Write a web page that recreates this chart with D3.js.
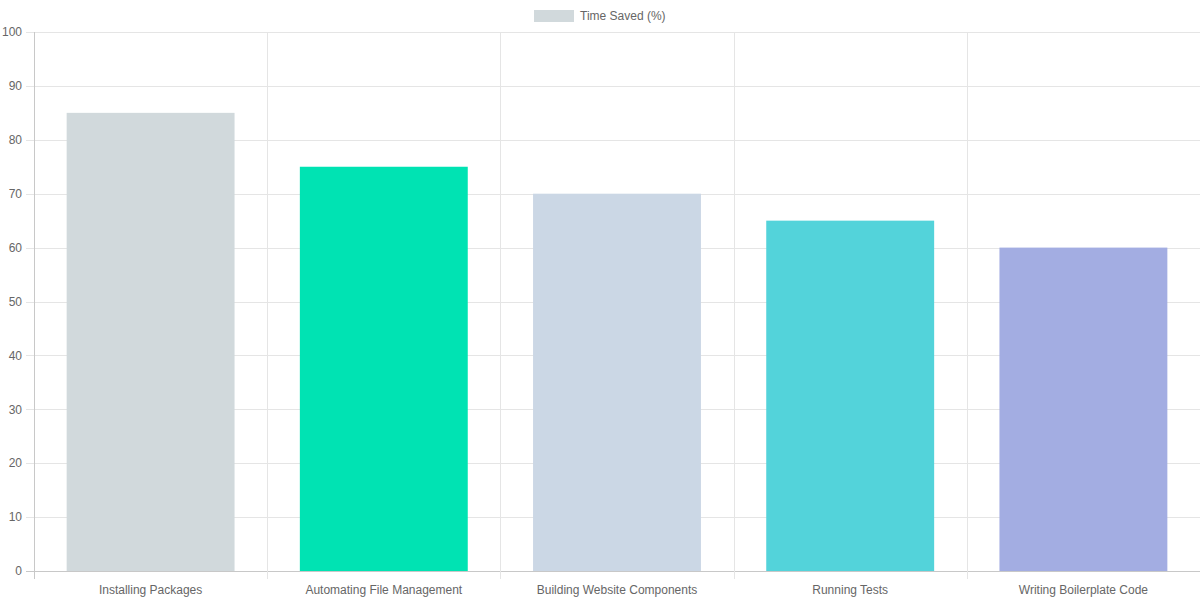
<!DOCTYPE html>
<html>
<head>
<meta charset="utf-8">
<script src="https://cdn.jsdelivr.net/npm/d3@7"></script>
<style>
  body { margin: 0; background: #fff; }
  svg { display: block; font-family: "Liberation Sans", Arial, sans-serif; }
</style>
</head>
<body>
<svg id="chart" width="1200" height="600"></svg>
<script>
// data
const categories = ["Installing Packages", "Automating File Management", "Building Website Components", "Running Tests", "Writing Boilerplate Code"];
const timeSaved = [85, 75, 70, 65, 60];
const barColors = ["#d1d9dc", "#00e3b3", "#cbd7e5", "#53d3da", "#a3ade2"];
const yTicks = [0, 10, 20, 30, 40, 50, 60, 70, 80, 90, 100];
const seriesName = "Time Saved (%)";

const svg = d3.select("#chart"),
    margin = { top: 32, right: 0, bottom: 29, left: 34 },
    width = 1200 - margin.left - margin.right,
    height = 600 - margin.top - margin.bottom;

const g = svg.append("g")
    .attr("transform", `translate(${margin.left},${margin.top})`);

const x = d3.scaleBand()
    .domain(categories)
    .range([0, width])
    .paddingInner(0)
    .paddingOuter(0);

const y = d3.scaleLinear()
    .domain([0, 100])
    .range([height, 0]);

// horizontal grid
g.append("g")
    .selectAll("line")
    .data(yTicks)
    .enter()
    .append("line")
    .attr("x1", -8)
    .attr("x2", width)
    .attr("y1", d => Math.round(y(d)) + 0.5)
    .attr("y2", d => Math.round(y(d)) + 0.5)
    .attr("stroke", d => d === 0 ? "#c8c8c8" : "#e5e5e5")
    .attr("stroke-width", 1);

// vertical grid
const xEdges = categories.map(c => x(c));
g.append("g")
    .selectAll("line")
    .data(xEdges)
    .enter()
    .append("line")
    .attr("x1", d => Math.round(d) + 0.5)
    .attr("x2", d => Math.round(d) + 0.5)
    .attr("y1", 0)
    .attr("y2", height + 8)
    .attr("stroke", (d, i) => i === 0 ? "#c8c8c8" : "#e5e5e5")
    .attr("stroke-width", 1);

// bars
const barW = x.bandwidth() * 0.72;
g.selectAll(".bar")
    .data(timeSaved)
    .enter()
    .append("rect")
    .attr("class", "bar")
    .attr("x", (d, i) => x(categories[i]) + (x.bandwidth() - barW) / 2)
    .attr("y", d => y(d))
    .attr("width", barW)
    .attr("height", d => height - y(d))
    .attr("fill", (d, i) => barColors[i]);

// y labels
g.append("g")
    .selectAll("text")
    .data(yTicks)
    .enter()
    .append("text")
    .attr("x", -12)
    .attr("y", d => y(d))
    .attr("dy", "0.35em")
    .attr("text-anchor", "end")
    .attr("font-size", 12)
    .attr("fill", "#666")
    .text(d => d);

// x labels
g.append("g")
    .selectAll("text")
    .data(categories)
    .enter()
    .append("text")
    .attr("x", d => x(d) + x.bandwidth() / 2)
    .attr("y", height + 23)
    .attr("text-anchor", "middle")
    .attr("font-size", 12)
    .attr("fill", "#666")
    .text(d => d);

// legend
const legend = svg.append("g");
legend.append("rect")
    .attr("x", 534)
    .attr("y", 10)
    .attr("width", 40)
    .attr("height", 12)
    .attr("fill", barColors[0]);
legend.append("text")
    .attr("x", 580)
    .attr("y", 16)
    .attr("dy", "0.35em")
    .attr("font-size", 12)
    .attr("fill", "#666")
    .text(seriesName);
</script>
</body>
</html>
